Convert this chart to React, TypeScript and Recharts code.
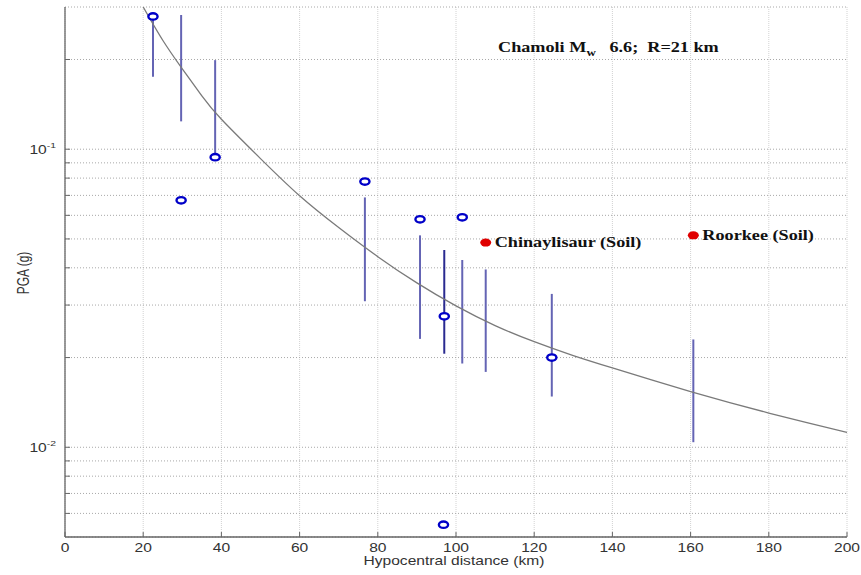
import React from "react";
import {
  ComposedChart,
  CartesianGrid,
  Line,
  ReferenceLine,
  Scatter,
  XAxis,
  YAxis,
} from "recharts";

// eixo x (km) e grade logarítmica do eixo y (g)
const distTicks = [0, 20, 40, 60, 80, 100, 120, 140, 160, 180, 200];
const pgaTicks = [
  0.006, 0.007, 0.008, 0.009, 0.01, 0.02, 0.03, 0.04, 0.05, 0.06, 0.07, 0.08,
  0.09, 0.1, 0.2,
];
const majorLabels: Record<string, string> = { "0.1": "-1", "0.01": "-2" };

// curva de atenuação
const curveDist = [20, 25, 30, 35, 40, 50, 60, 70, 80, 90, 100, 110, 120, 130, 140, 150, 160, 170, 180, 190, 200];
const curvePga = [0.3, 0.232, 0.186, 0.151, 0.126, 0.093, 0.0698, 0.0546, 0.0436, 0.0356, 0.0298, 0.0256, 0.0226, 0.0203, 0.01845, 0.01682, 0.01538, 0.01413, 0.01303, 0.01208, 0.01122];

// registros observados (círculos azuis)
const obsDist = [22.5, 29.7, 38.4, 76.7, 90.8, 101.6, 97.0, 124.5, 96.8];
const obsPga = [0.279, 0.0674, 0.094, 0.0779, 0.0582, 0.0591, 0.0275, 0.02, 0.0055];

// estações em solo (pontos vermelhos)
const soilNames = ["Chinaylisaur (Soil)", "Roorkee (Soil)"];
const soilDist = [107.6, 160.7];
const soilPga = [0.0486, 0.0514];

// barras verticais (faixa de previsão)
const barDist = [22.5, 29.7, 38.4, 76.7, 90.8, 97.0, 101.6, 107.6, 124.5, 160.7];
const barLow = [0.175, 0.124, 0.093, 0.0309, 0.0231, 0.0206, 0.0191, 0.0179, 0.0148, 0.0104];
const barHigh = [0.28, 0.282, 0.199, 0.0689, 0.0514, 0.0459, 0.0425, 0.0395, 0.0327, 0.023];

const curveData = curveDist.map((x, i) => ({ x, y: curvePga[i] }));
const obsData = obsDist.map((x, i) => ({ x, y: obsPga[i] }));
const soilData = soilDist.map((x, i) => ({ x, y: soilPga[i], name: soilNames[i] }));

const SANS = "'Liberation Sans', Arial, sans-serif";
const SERIF = "'Liberation Serif', 'Times New Roman', serif";
const STRETCH = 1.3; // figura original esticada na horizontal
const FRAME = "#666";

const BottomTick = (props: any) => {
  const { x, y, payload } = props;
  return (
    <g>
      <line x1={x} y1={y} x2={x} y2={y - 5} stroke={FRAME} />
      <g transform={`translate(${x},${y + 15}) scale(${STRETCH},1)`}>
        <text textAnchor="middle" fontFamily={SANS} fontSize={12} fill="#333">
          {payload.value}
        </text>
      </g>
    </g>
  );
};

const TopTick = (props: any) => {
  const { x, y } = props;
  return <line x1={x} y1={y} x2={x} y2={y + 5} stroke={FRAME} />;
};

const LeftTick = (props: any) => {
  const { x, y, payload } = props;
  const exp = majorLabels[String(payload.value)];
  return (
    <g>
      <line x1={x} y1={y} x2={x + 5} y2={y} stroke={FRAME} />
      {exp && (
        <g transform={`translate(${x - 9},${y + 4.5}) scale(${STRETCH},1)`}>
          <text textAnchor="end" fontFamily={SANS} fontSize={12} fill="#333">
            10
            <tspan dy={-5.5} fontSize={8}>
              {exp}
            </tspan>
          </text>
        </g>
      )}
    </g>
  );
};

const RightTick = (props: any) => {
  const { x, y } = props;
  return <line x1={x} y1={y} x2={x - 5} y2={y} stroke={FRAME} />;
};

const OpenCircle = (props: any) => (
  <ellipse cx={props.cx} cy={props.cy} rx={4.6} ry={3.2} fill="#fff" stroke="#0000c8" strokeWidth={2.4} />
);

const SoilDot = (props: any) => (
  <g>
    <ellipse cx={props.cx} cy={props.cy} rx={5.5} ry={4} fill="#e00000" />
    <g transform={`translate(${props.cx + 9},${props.cy + 4.5}) scale(${STRETCH},1)`}>
      <text fontFamily={SERIF} fontWeight="bold" fontSize={14} fill="#111">
        {props.payload.name}
      </text>
    </g>
  </g>
);

export default function App() {
  return (
    <div style={{ position: "absolute", left: 0, top: 0, width: 861, height: 575, background: "#fff" }}>
      <ComposedChart width={861} height={575} margin={{ top: 7, right: 14, bottom: 0, left: 0 }}>
        <CartesianGrid stroke="#d2d2d2" strokeDasharray="1 1" horizontal={false} />
        <CartesianGrid stroke="#a8a8a8" strokeDasharray="1 2" vertical={false} />
        <XAxis
          dataKey="x"
          type="number"
          domain={[0, 200]}
          ticks={distTicks}
          interval={0}
          height={38}
          tickSize={0}
          tickMargin={0}
          tickLine={false}
          tick={<BottomTick />}
          axisLine={{ stroke: FRAME, strokeWidth: 1.3 }}
          allowDataOverflow
        />
        <XAxis
          xAxisId="top"
          orientation="top"
          type="number"
          domain={[0, 200]}
          ticks={distTicks}
          interval={0}
          height={0}
          tickSize={0}
          tickMargin={0}
          tickLine={false}
          tick={<TopTick />}
          axisLine={{ stroke: FRAME, strokeWidth: 1.3 }}
        />
        <YAxis
          dataKey="y"
          type="number"
          scale="log"
          domain={[0.005, 0.3]}
          ticks={pgaTicks}
          interval={0}
          width={65}
          tickSize={0}
          tickMargin={0}
          tickLine={false}
          tick={<LeftTick />}
          axisLine={{ stroke: FRAME, strokeWidth: 1.3 }}
          allowDataOverflow
        />
        <YAxis
          yAxisId="right"
          orientation="right"
          type="number"
          scale="log"
          domain={[0.005, 0.3]}
          ticks={pgaTicks}
          interval={0}
          width={0}
          tickSize={0}
          tickMargin={0}
          tickLine={false}
          tick={<RightTick />}
          axisLine={{ stroke: FRAME, strokeWidth: 1.3 }}
          allowDataOverflow
        />

        {barDist.map((d, i) => (
          <ReferenceLine
            key={`bar-${i}`}
            segment={[
              { x: d, y: barLow[i] },
              { x: d, y: barHigh[i] },
            ]}
            stroke={d === 97.0 ? "#2a2a90" : "#6464b4"}
            strokeWidth={2}
          />
        ))}

        <Line
          data={curveData}
          dataKey="y"
          type="natural"
          stroke="#7a7a7a"
          strokeWidth={1.3}
          dot={false}
          isAnimationActive={false}
        />
        <Scatter data={obsData} dataKey="y" shape={<OpenCircle />} isAnimationActive={false} />
        <Scatter data={soilData} dataKey="y" shape={<SoilDot />} isAnimationActive={false} />
      </ComposedChart>

      <svg
        width={861}
        height={575}
        style={{ position: "absolute", left: 0, top: 0, pointerEvents: "none" }}
      >
        <g transform={`translate(498,52) scale(${STRETCH},1)`}>
          <text fontFamily={SERIF} fontWeight="bold" fontSize={14} fill="#111" xmlSpace="preserve">
            Chamoli M
            <tspan dy={4} fontSize={10}>
              w
            </tspan>
            <tspan dy={-4}>{"   6.6;  R=21 km"}</tspan>
          </text>
        </g>
        <g transform={`translate(454,565) scale(${STRETCH},1)`}>
          <text textAnchor="middle" fontFamily={SANS} fontSize={12} fill="#333">
            Hypocentral distance (km)
          </text>
        </g>
        <g transform={`translate(29,273) rotate(-90) scale(1,${STRETCH})`}>
          <text textAnchor="middle" fontFamily={SANS} fontSize={12} fill="#333">
            PGA (g)
          </text>
        </g>
      </svg>
    </div>
  );
}
